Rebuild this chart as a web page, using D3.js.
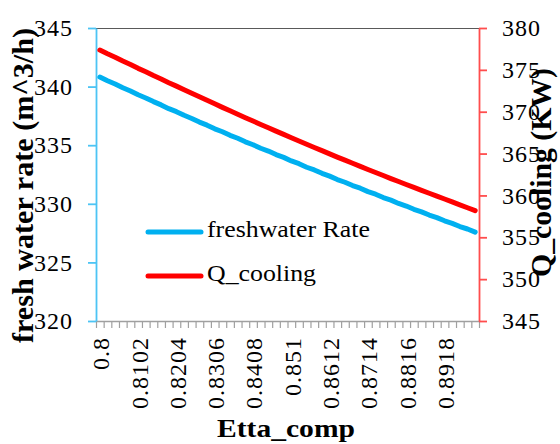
<!DOCTYPE html>
<html>
<head>
<meta charset="utf-8">
<script src="https://cdn.jsdelivr.net/npm/d3@7"></script>
<style>
  html, body { margin: 0; padding: 0; background: #fff; }
  svg { display: block; }
</style>
</head>
<body>
<svg id="chart" width="560" height="444"></svg>
<script>
// ---- data ----
const categories = [
  "0.8","0.80204","0.80408","0.80612","0.80816","0.8102","0.81224","0.81429","0.81633","0.81837",
  "0.8204","0.82245","0.82449","0.82653","0.82857","0.8306","0.83265","0.83469","0.83673","0.83878",
  "0.8408","0.84286","0.8449","0.84694","0.84898","0.851","0.85306","0.8551","0.85714","0.85918",
  "0.8612","0.86327","0.86531","0.86735","0.86939","0.8714","0.87347","0.87551","0.87755","0.87959",
  "0.8816","0.88367","0.88571","0.88776","0.8898","0.8918","0.89388","0.89592","0.89796","0.9"
];
const tickLabels = ["0.8","0.8102","0.8204","0.8306","0.8408","0.851","0.8612","0.8714","0.8816","0.8918"];
const freshwaterRate = [
  340.82,340.50,340.22,339.90,339.62,339.30,339.03,338.72,338.44,338.12,
  337.86,337.55,337.28,336.97,336.71,336.40,336.15,335.84,335.59,335.29,
  335.04,334.74,334.50,334.20,333.96,333.66,333.42,333.12,332.89,332.60,
  332.36,332.07,331.84,331.56,331.33,331.04,330.82,330.53,330.31,330.03,
  329.81,329.53,329.31,329.04,328.82,328.55,328.33,328.06,327.85,327.58
];
const qCooling = [
  377.37,376.92,376.51,376.05,375.63,375.18,374.77,374.32,373.91,373.47,
  373.06,372.63,372.20,371.78,371.36,370.94,370.52,370.11,369.70,369.29,
  368.88,368.48,368.08,367.68,367.29,366.89,366.50,366.11,365.73,365.35,
  364.96,364.58,364.21,363.84,363.47,363.10,362.74,362.38,362.01,361.66,
  361.30,360.96,360.61,360.26,359.91,359.57,359.22,358.88,358.53,358.18
];
const leftTicks = [320, 325, 330, 335, 340, 345];
const rightTicks = [345, 350, 355, 360, 365, 370, 375, 380];
const seriesNames = ["freshwater Rate", "Q_cooling"];
const seriesColors = ["#00b0f0", "#ff0000"];

const FONT = "'Liberation Serif', 'Times New Roman', serif";

// ---- layout ----
const svg = d3.select("#chart");
const L = 96, R = 479, T = 28, B = 321;

const x = d3.scaleBand().domain(categories).range([L, R]).paddingInner(0).paddingOuter(0);
const xTick = d3.scaleLinear().domain([0, categories.length]).range([L, R]);
const yL = d3.scaleLinear().domain([320, 345]).range([B, T]);
const yR = d3.scaleLinear().domain([345, 380]).range([B, T]);

// top border
svg.append("line").attr("x1", L).attr("x2", R).attr("y1", T + 0.5).attr("y2", T + 0.5)
  .attr("stroke", "#595959").attr("stroke-width", 1.2);

// x axis tick marks (between categories)
const gxt = svg.append("g").attr("transform", `translate(0,${B})`)
  .call(d3.axisBottom(xTick).tickValues(d3.range(categories.length + 1)).tickFormat("").tickSize(7).tickSizeOuter(0));
gxt.select(".domain").attr("stroke", "#a0a0a0").attr("stroke-width", 1.5);
gxt.selectAll(".tick line").attr("stroke", "#a0a0a0").attr("stroke-width", 1.2);

// x axis labels
const gxl = svg.append("g").attr("transform", `translate(0,${B})`)
  .call(d3.axisBottom(x).tickValues(tickLabels).tickSize(0).tickPadding(0));
gxl.select(".domain").remove();
gxl.selectAll(".tick text")
  .attr("transform", "rotate(-90)")
  .attr("text-anchor", "end")
  .attr("x", -16).attr("y", 1).attr("dy", "0.35em")
  .style("font-size", "24px").style("letter-spacing", "1px");

// left axis
const gl = svg.append("g").attr("transform", `translate(${L},0)`)
  .call(d3.axisLeft(yL).tickValues(leftTicks).tickSize(8).tickPadding(15).tickSizeOuter(0));
gl.select(".domain").attr("stroke", "#4cc4f4").attr("stroke-width", 1.8);
gl.selectAll(".tick line").attr("stroke", "#4cc4f4").attr("stroke-width", 1.8);
gl.selectAll(".tick text").style("font-size", "24px").style("letter-spacing", "1px");

// right axis
const gr = svg.append("g").attr("transform", `translate(${R},0)`)
  .call(d3.axisRight(yR).tickValues(rightTicks).tickSize(8).tickPadding(15).tickSizeOuter(0));
gr.select(".domain").attr("stroke", "#ff4d4d").attr("stroke-width", 1.8);
gr.selectAll(".tick line").attr("stroke", "#ff4d4d").attr("stroke-width", 1.8);
gr.selectAll(".tick text").style("font-size", "24px").style("letter-spacing", "1px");

// lines
const lineL = d3.line().x((d, i) => x(categories[i]) + x.bandwidth() / 2).y(d => yL(d));
const lineR = d3.line().x((d, i) => x(categories[i]) + x.bandwidth() / 2).y(d => yR(d));
svg.append("path").datum(freshwaterRate).attr("d", lineL)
  .attr("fill", "none").attr("stroke", seriesColors[0]).attr("stroke-width", 5)
  .attr("stroke-linejoin", "round").attr("stroke-linecap", "round");
svg.append("path").datum(qCooling).attr("d", lineR)
  .attr("fill", "none").attr("stroke", seriesColors[1]).attr("stroke-width", 5)
  .attr("stroke-linejoin", "round").attr("stroke-linecap", "round");

// legend
const legY = [232, 276];
const legLen = [163, 109];
seriesNames.forEach((name, i) => {
  svg.append("line").attr("x1", 148).attr("x2", 201).attr("y1", legY[i]).attr("y2", legY[i])
    .attr("stroke", seriesColors[i]).attr("stroke-width", 5).attr("stroke-linecap", "round");
  svg.append("text").attr("x", 207).attr("y", legY[i] + 5)
    .attr("textLength", legLen[i]).attr("lengthAdjust", "spacingAndGlyphs")
    .style("font-size", "24px").text(name);
});

// axis titles
svg.append("text").attr("transform", "translate(33,185.5) scale(1.12,1) rotate(-90)")
  .attr("text-anchor", "middle").style("font-size", "27px").style("font-weight", "bold")
  .attr("textLength", 315).attr("lengthAdjust", "spacingAndGlyphs")
  .text("fresh water rate (m^3/h)");
svg.append("text").attr("transform", "translate(551,172.5) scale(1.1,1) rotate(-90)")
  .attr("text-anchor", "middle").style("font-size", "27px").style("font-weight", "bold")
  .attr("textLength", 209).attr("lengthAdjust", "spacingAndGlyphs")
  .text("Q_cooling (KW)");
svg.append("text").attr("x", 286).attr("y", 437)
  .attr("text-anchor", "middle").style("font-size", "26px").style("font-weight", "bold")
  .attr("textLength", 138).attr("lengthAdjust", "spacingAndGlyphs")
  .text("Etta_comp");

// apply serif font everywhere (overrides d3 axis default sans-serif)
svg.selectAll("g").attr("font-family", null);
svg.selectAll("text").style("font-family", FONT).attr("fill", "#000");
</script>
</body>
</html>
